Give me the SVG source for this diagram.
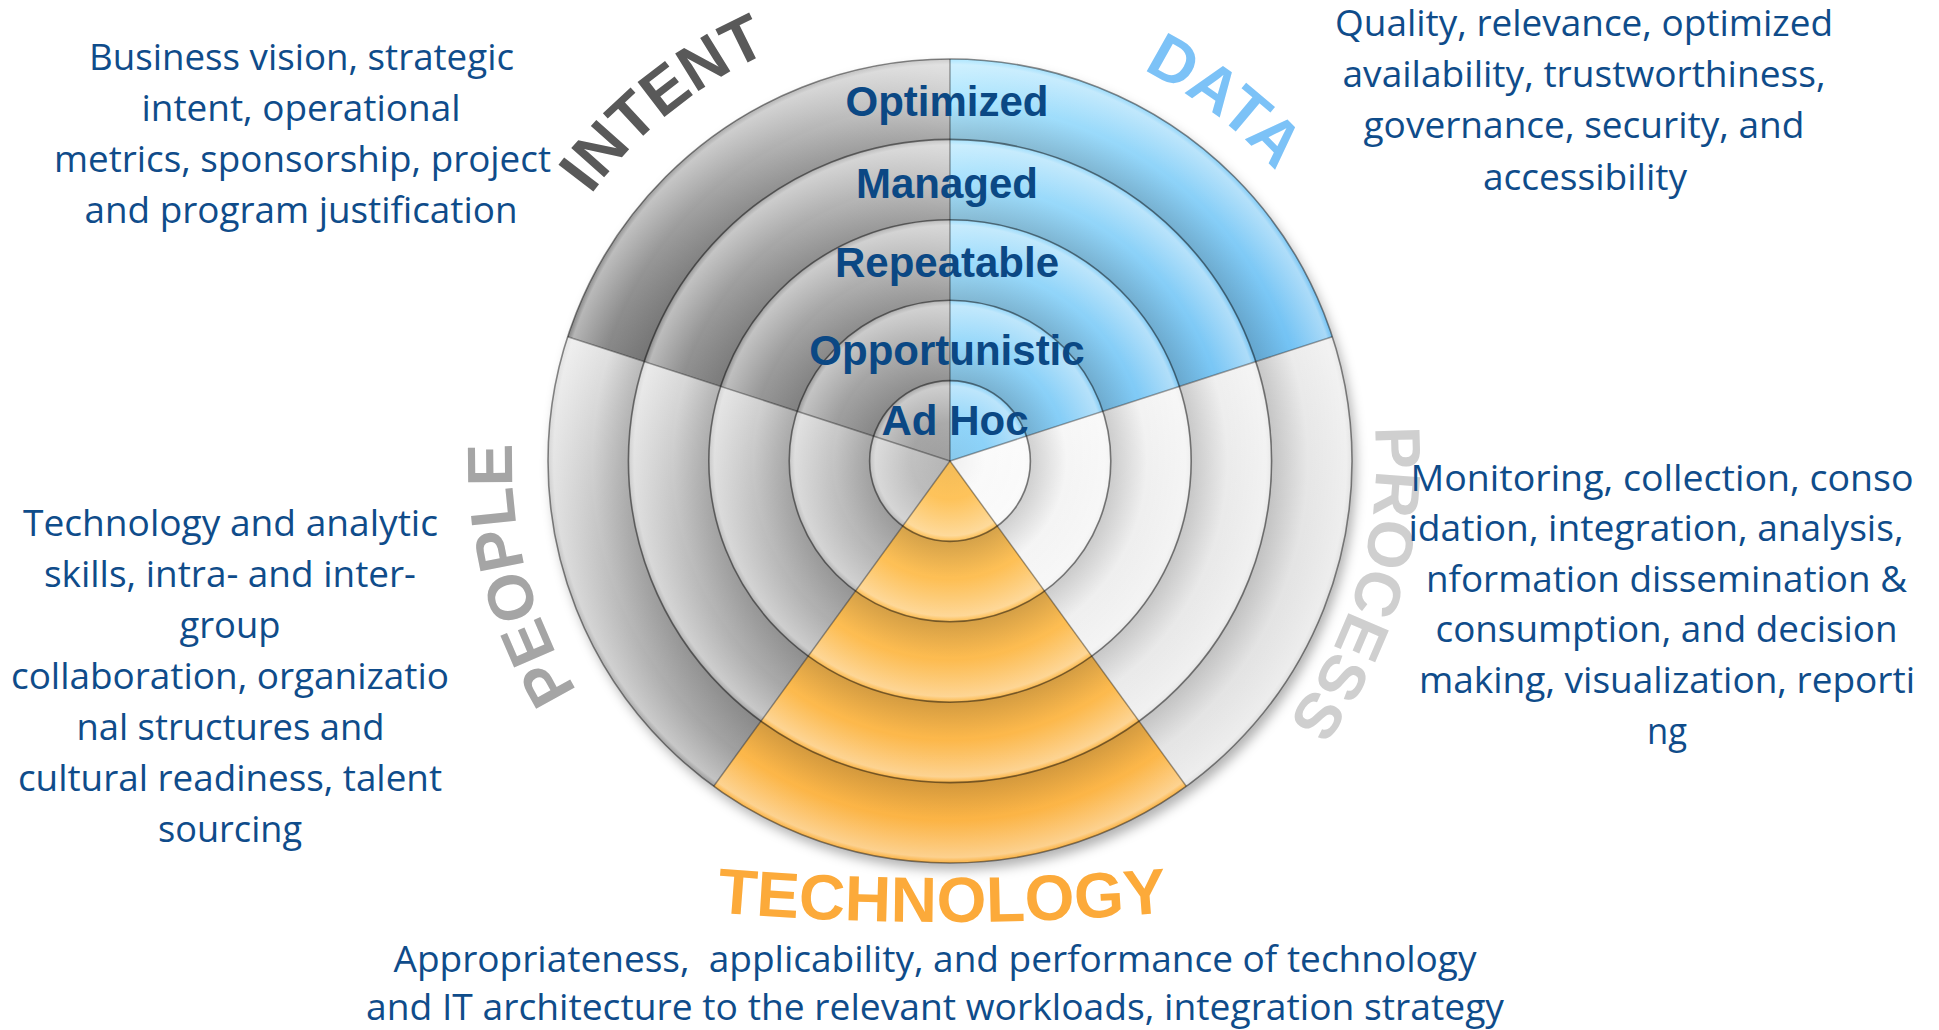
<svg xmlns="http://www.w3.org/2000/svg" width="1939" height="1030" viewBox="0 0 1939 1030">
<defs>
<style>
.desc{font-family:"Open Sans","Liberation Sans",sans-serif;font-size:36px;fill:#0f4c8a;text-anchor:middle}
.lvl{font-family:"Liberation Sans",Arial,sans-serif;font-weight:bold;font-size:42px;fill:#0b4884;text-anchor:middle}
.big{font-family:"Liberation Sans",Arial,sans-serif;font-weight:bold;font-size:64px;text-anchor:middle}
.ring{fill:none;stroke:#000;stroke-opacity:0.45;stroke-width:1.6}
.spoke{stroke:#000;stroke-opacity:0.35;stroke-width:1.5}
.bands{fill:url(#bandG)}
</style>
<filter id="sh" x="-20%" y="-20%" width="140%" height="140%"><feGaussianBlur stdDeviation="6"/></filter>
<linearGradient id="gI" gradientUnits="userSpaceOnUse" x1="950" y1="80" x2="600" y2="360"><stop offset="0" stop-color="#cdcdcd"/><stop offset="1" stop-color="#858585"/></linearGradient>
<linearGradient id="gD" gradientUnits="userSpaceOnUse" x1="950" y1="80" x2="1320" y2="360"><stop offset="0" stop-color="#aee6fe"/><stop offset="1" stop-color="#6fc0f3"/></linearGradient>
<linearGradient id="gP" gradientUnits="userSpaceOnUse" x1="1000" y1="420" x2="1330" y2="620"><stop offset="0" stop-color="#fbfbfb"/><stop offset="1" stop-color="#e0e0e0"/></linearGradient>
<linearGradient id="gT" gradientUnits="userSpaceOnUse" x1="950" y1="470" x2="950" y2="860"><stop offset="0" stop-color="#fec45c"/><stop offset="1" stop-color="#fbb243"/></linearGradient>
<linearGradient id="gPe" gradientUnits="userSpaceOnUse" x1="600" y1="330" x2="760" y2="780"><stop offset="0" stop-color="#e4e4e4"/><stop offset="1" stop-color="#999999"/></linearGradient>
<radialGradient id="bandG" gradientUnits="userSpaceOnUse" cx="950" cy="461" r="402">
<stop offset="0" stop-color="#000" stop-opacity="0.05"/>
<stop offset="0.09" stop-color="#000" stop-opacity="0"/>
<stop offset="0.095" stop-color="#fff" stop-opacity="0"/>
<stop offset="0.186" stop-color="#fff" stop-opacity="0.4"/>
<stop offset="0.196" stop-color="#fff" stop-opacity="0.1"/>
<stop offset="0.2" stop-color="#000" stop-opacity="0.16"/>
<stop offset="0.29" stop-color="#000" stop-opacity="0"/>
<stop offset="0.295" stop-color="#fff" stop-opacity="0"/>
<stop offset="0.386" stop-color="#fff" stop-opacity="0.4"/>
<stop offset="0.396" stop-color="#fff" stop-opacity="0.1"/>
<stop offset="0.4" stop-color="#000" stop-opacity="0.16"/>
<stop offset="0.49" stop-color="#000" stop-opacity="0"/>
<stop offset="0.495" stop-color="#fff" stop-opacity="0"/>
<stop offset="0.586" stop-color="#fff" stop-opacity="0.4"/>
<stop offset="0.596" stop-color="#fff" stop-opacity="0.1"/>
<stop offset="0.6" stop-color="#000" stop-opacity="0.16"/>
<stop offset="0.69" stop-color="#000" stop-opacity="0"/>
<stop offset="0.695" stop-color="#fff" stop-opacity="0"/>
<stop offset="0.786" stop-color="#fff" stop-opacity="0.4"/>
<stop offset="0.796" stop-color="#fff" stop-opacity="0.1"/>
<stop offset="0.8" stop-color="#000" stop-opacity="0.16"/>
<stop offset="0.89" stop-color="#000" stop-opacity="0"/>
<stop offset="0.895" stop-color="#fff" stop-opacity="0"/>
<stop offset="0.986" stop-color="#fff" stop-opacity="0.4"/>
<stop offset="0.996" stop-color="#fff" stop-opacity="0.1"/>
</radialGradient>
<path id="wI" d="M950,461 L567.67,336.77 A402,402 0 0 1 950,59 Z"/>
<path id="wD" d="M950,461 L950,59 A402,402 0 0 1 1332.33,336.77 Z"/>
<path id="wP" d="M950,461 L1332.33,336.77 A402,402 0 0 1 1186.29,786.23 Z"/>
<path id="wT" d="M950,461 L1186.29,786.23 A402,402 0 0 1 713.71,786.23 Z"/>
<path id="wPe" d="M950,461 L713.71,786.23 A402,402 0 0 1 567.67,336.77 Z"/>
<path id="pI" d="M511.74,373.03 A447,447 0 0 1 960.53,14.12"/>
<path id="pD" d="M929.46,25.48 A436,436 0 0 1 1375.33,365.15"/>
<path id="pP" d="M1340.67,291.13 A426,426 0 0 1 1185.13,816.24"/>
<path id="pPe" d="M696.90,818.47 A438,438 0 0 1 554.01,273.82"/>
<path id="pT" d="M566.2,895.7 A2700,2700 0 0 0 1317.8,895.7"/>
</defs>
<rect width="1939" height="1030" fill="#fff"/>

<g id="radar">
<circle cx="954" cy="468" r="402" fill="#000" fill-opacity="0.3" filter="url(#sh)"/>
<g id="sector-intent"><use href="#wI" fill="url(#gI)"/><use href="#wI" class="bands"/></g>
<g id="sector-data"><use href="#wD" fill="url(#gD)"/><use href="#wD" class="bands"/></g>
<g id="sector-process"><use href="#wP" fill="url(#gP)"/><use href="#wP" class="bands"/></g>
<g id="sector-technology"><use href="#wT" fill="url(#gT)"/><use href="#wT" class="bands"/></g>
<g id="sector-people"><use href="#wPe" fill="url(#gPe)"/><use href="#wPe" class="bands"/></g>
<g id="rings">
<circle class="ring" cx="950" cy="461" r="80.4"/>
<circle class="ring" cx="950" cy="461" r="160.8"/>
<circle class="ring" cx="950" cy="461" r="241.2"/>
<circle class="ring" cx="950" cy="461" r="321.6"/>
<circle class="ring" cx="950" cy="461" r="402" stroke-opacity="0.5"/>
<line class="spoke" x1="950" y1="461" x2="567.67" y2="336.77"/>
<line class="spoke" x1="950" y1="461" x2="950" y2="59"/>
<line class="spoke" x1="950" y1="461" x2="1332.33" y2="336.77"/>
<line class="spoke" x1="950" y1="461" x2="1186.29" y2="786.23"/>
<line class="spoke" x1="950" y1="461" x2="713.71" y2="786.23"/>
</g>
</g>

<g id="label-intent">
<text class="big" fill="#595959" font-size="66"><textPath href="#pI" startOffset="50%">INTENT</textPath></text>
<text class="desc" x="301.5" y="70" textLength="425" lengthAdjust="spacingAndGlyphs">Business vision, strategic</text>
<text class="desc" x="301" y="121" textLength="319" lengthAdjust="spacingAndGlyphs">intent, operational</text>
<text class="desc" x="302.5" y="172" textLength="497" lengthAdjust="spacingAndGlyphs">metrics, sponsorship, project</text>
<text class="desc" x="301" y="223" textLength="433" lengthAdjust="spacingAndGlyphs">and program justification</text>
</g>

<g id="label-data">
<text class="big" fill="#7cc2f7" font-size="62"><textPath href="#pD" startOffset="50%">DATA</textPath></text>
<text class="desc" x="1584" y="36" textLength="498" lengthAdjust="spacingAndGlyphs">Quality, relevance, optimized</text>
<text class="desc" x="1584" y="87" textLength="483" lengthAdjust="spacingAndGlyphs">availability, trustworthiness,</text>
<text class="desc" x="1584" y="138" textLength="441" lengthAdjust="spacingAndGlyphs">governance, security, and</text>
<text class="desc" x="1585" y="190" textLength="204" lengthAdjust="spacingAndGlyphs">accessibility</text>
</g>

<g id="label-process">
<text class="big" fill="#cfcfcf"><textPath href="#pP" startOffset="50%">PROCESS</textPath></text>
<text class="desc" x="1662" y="491" textLength="503" lengthAdjust="spacingAndGlyphs">Monitoring, collection, conso</text>
<text class="desc" x="1656" y="541" textLength="495" lengthAdjust="spacingAndGlyphs">idation, integration, analysis,</text>
<text class="desc" x="1666.5" y="592" textLength="481" lengthAdjust="spacingAndGlyphs">nformation dissemination &amp;</text>
<text class="desc" x="1666.5" y="642" textLength="462" lengthAdjust="spacingAndGlyphs">consumption, and decision</text>
<text class="desc" x="1667" y="693" textLength="496" lengthAdjust="spacingAndGlyphs">making, visualization, reporti</text>
<text class="desc" x="1667" y="744" textLength="40" lengthAdjust="spacingAndGlyphs">ng</text>
</g>

<g id="label-people">
<text class="big" fill="#a5a5a5"><textPath href="#pPe" startOffset="50%">PEOPLE</textPath></text>
<text class="desc" x="230.5" y="536" textLength="415" lengthAdjust="spacingAndGlyphs">Technology and analytic</text>
<text class="desc" x="230" y="587" textLength="372" lengthAdjust="spacingAndGlyphs">skills, intra- and inter-</text>
<text class="desc" x="230" y="638" textLength="101" lengthAdjust="spacingAndGlyphs">group</text>
<text class="desc" x="230" y="689" textLength="438" lengthAdjust="spacingAndGlyphs">collaboration, organizatio</text>
<text class="desc" x="230.5" y="740" textLength="308" lengthAdjust="spacingAndGlyphs">nal structures and</text>
<text class="desc" x="230" y="791" textLength="424" lengthAdjust="spacingAndGlyphs">cultural readiness, talent</text>
<text class="desc" x="230" y="842" textLength="144" lengthAdjust="spacingAndGlyphs">sourcing</text>
</g>

<g id="label-technology">
<text class="big" fill="#fcaa3a"><textPath href="#pT" startOffset="50%">TECHNOLOGY</textPath></text>
<text class="desc" x="935" y="972" textLength="1083" lengthAdjust="spacingAndGlyphs" style="white-space:pre">Appropriateness,  applicability, and performance of technology</text>
<text class="desc" x="935" y="1020" textLength="1138" lengthAdjust="spacingAndGlyphs">and IT architecture to the relevant workloads, integration strategy</text>
</g>

<g id="levels">
<g id="level-optimized"><text class="lvl" x="947" y="116">Optimized</text></g>
<g id="level-managed"><text class="lvl" x="947" y="198">Managed</text></g>
<g id="level-repeatable"><text class="lvl" x="947" y="277">Repeatable</text></g>
<g id="level-opportunistic"><text class="lvl" x="947" y="365">Opportunistic</text></g>
<g id="level-adhoc"><text class="lvl" x="955" y="435">Ad Hoc</text></g>
</g>
<g id="connectors"/>
</svg>
